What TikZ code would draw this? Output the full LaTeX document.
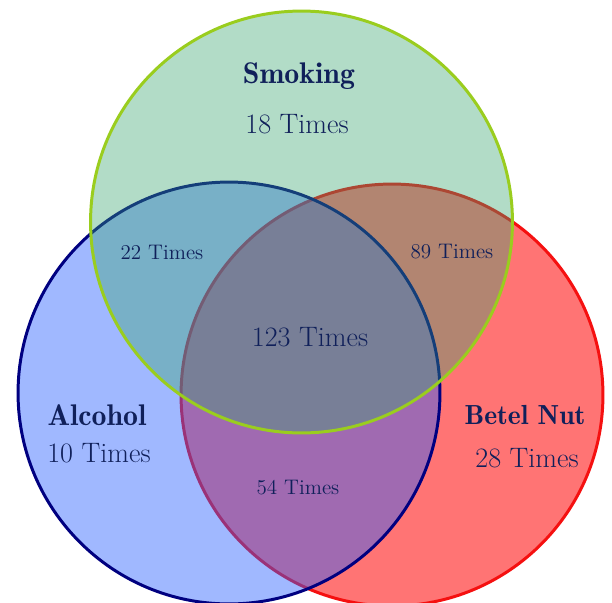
\documentclass[tikz,border=0pt]{standalone}
\usetikzlibrary{positioning}
\definecolor{ink}{HTML}{10205A}
\definecolor{smokefill}{HTML}{37A36E}
\definecolor{smokeline}{HTML}{9ACD1E}
\definecolor{alcfill}{HTML}{275EFF}
\definecolor{alcline}{HTML}{000080}
\definecolor{betelfill}{HTML}{FF7474}
\definecolor{betelline}{HTML}{F51010}
\newcommand{\setsize}{\fontsize{17}{19}\fontseries{b}\selectfont}
\newcommand{\countsize}{\fontsize{16}{18}\selectfont}
\newcommand{\partsize}{\fontsize{12}{14}\selectfont}
\tikzset{
 every node/.append style={text=ink,align=center},
 ring/.style={circle,inner sep=0pt,minimum size=8.44cm,line width=1.7pt},
 title/.style={font=\setsize,inner sep=1pt},
 count/.style={font=\countsize,inner sep=1pt},
 part/.style={font=\partsize,inner sep=1pt},
}
\begin{document}
\begin{tikzpicture}[x=0.02cm,y=-0.02cm]

\useasboundingbox (0,0) rectangle (612,602);
\fill[white] (0,0) rectangle (612,602);
% the three sets
\node[ring,draw=betelline,fill=betelfill] (betel) at (392,395) {};
\node[ring,draw=alcline,fill=alcfill,fill opacity=.44] (alcohol) at (229,393) {};
\node[ring,draw=smokeline,fill=smokefill,fill opacity=.38] (smoking) at (301.5,222) {};
% set names and counts
\node[title] (smokename) at (299,76) {Smoking};
\node[count] (smokecount) at (297,124) {18 Times};
\node[title] (alcname) at (97,415) {Alcohol};
\node[count] (alccount) at (99,453) {10 Times};
\node[title,font=\fontsize{15.7}{18}\fontseries{b}\selectfont] (betelname) at (525,415) {Betel Nut};
\node[count] (betelcount) at (527,458) {28 Times};
% overlaps
\node[part] (smokealc) at (162,252) {22 Times};
\node[part] (smokebetel) at (452,252) {89 Times};
\node[part] (alcbetel) at (298,488) {54 Times};
\node[count] (allthree) at (310,337) {123 Times};

\end{tikzpicture}
\end{document}
